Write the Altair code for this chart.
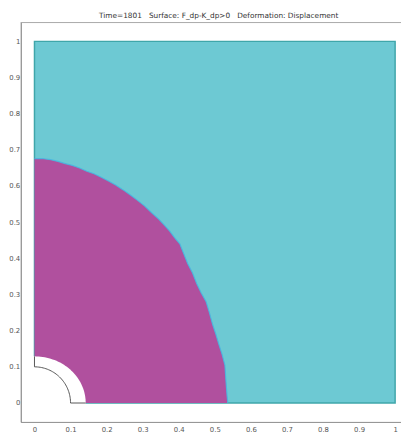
import altair as alt
import pandas as pd
import numpy as np

# ---- chart texts / ticks ----
title_text = "Time=1801\u00a0\u00a0\u00a0Surface: F_dp-K_dp>0\u00a0\u00a0\u00a0Deformation: Displacement"
tick_values = [0, 0.1, 0.2, 0.3, 0.4, 0.5, 0.6, 0.7, 0.8, 0.9, 1]

# ---- phase front (boundary of region where F_dp-K_dp>0) ----
front_x = [0.000, 0.020, 0.045, 0.065, 0.085, 0.105, 0.125, 0.145, 0.165, 0.185,
           0.205, 0.225, 0.245, 0.265, 0.285, 0.305, 0.325, 0.345, 0.360, 0.375,
           0.390, 0.403, 0.415, 0.425, 0.438, 0.450, 0.462, 0.476, 0.485, 0.494,
           0.503, 0.511, 0.520, 0.528, 0.531, 0.534, 0.536]
front_y = [0.676, 0.676, 0.673, 0.668, 0.662, 0.657, 0.650, 0.641, 0.634, 0.624,
           0.614, 0.603, 0.590, 0.576, 0.561, 0.545, 0.526, 0.508, 0.492, 0.475,
           0.455, 0.440, 0.410, 0.385, 0.360, 0.330, 0.305, 0.280, 0.250, 0.217,
           0.190, 0.163, 0.135, 0.105, 0.060, 0.020, 0.000]

# ---- geometry of the domain and the hole ----
domain_box = {"x": [0.0], "x2": [1.0], "y": [0.0], "y2": [1.0]}
hole_inner_r = 0.1
hole_outer_rx = 0.142
hole_outer_ry = 0.129

X_DOMAIN = [-0.0381, 1.0163]
Y_DOMAIN = [-0.0523, 1.0534]

CYAN = "#6DC9D3"
MAGENTA = "#B0509E"
TEAL = "#3FA6AA"

xs = alt.Scale(domain=X_DOMAIN, nice=False, zero=False)
ys = alt.Scale(domain=Y_DOMAIN, nice=False, zero=False)

x_axis = alt.Axis(values=tick_values, title=None, grid=False, ticks=False,
                  labelPadding=4, domainColor="#8a8a8a", labelFontSize=7,
                  labelColor="#555", labelFont="DejaVu Sans", format="~g",
                  labelOverlap=False, labelFlush=False)
y_axis = alt.Axis(values=tick_values, title=None, grid=False, ticks=False,
                  labelPadding=1, domainColor="#707070", labelFontSize=7,
                  labelColor="#555", labelFont="DejaVu Sans", format="~g",
                  labelOverlap=False, labelFlush=False)

box_df = pd.DataFrame(domain_box)
square = alt.Chart(box_df).mark_rect(fill=CYAN, stroke=TEAL, strokeWidth=1.5).encode(
    x=alt.X("x:Q", scale=xs, axis=x_axis),
    x2="x2:Q",
    y=alt.Y("y:Q", scale=ys, axis=y_axis),
    y2="y2:Q",
)

front_df = pd.DataFrame({"x": front_x, "y": front_y, "y0": [0.0] * len(front_x)})
magenta = alt.Chart(front_df).mark_area(color=MAGENTA, opacity=1).encode(
    x=alt.X("x:Q", scale=xs, axis=x_axis),
    y=alt.Y("y:Q", scale=ys, axis=y_axis),
    y2="y0:Q",
)
front_line = alt.Chart(front_df).mark_line(color="#45B9E2", strokeWidth=1.2, opacity=0.85).encode(
    x=alt.X("x:Q", scale=xs, axis=x_axis),
    y=alt.Y("y:Q", scale=ys, axis=y_axis),
)

# white (undeformed-gap) region around the hole
t = np.linspace(np.pi / 2, 0, 40)
cover_x = [-0.008] + list(hole_outer_rx * np.cos(t))
cover_y = [hole_outer_ry] + list(hole_outer_ry * np.sin(t))
cover_df = pd.DataFrame({"x": cover_x, "y": cover_y, "y0": [-0.008] * len(cover_x)})
cover = alt.Chart(cover_df).mark_area(color="white", opacity=1).encode(
    x=alt.X("x:Q", scale=xs, axis=x_axis),
    y=alt.Y("y:Q", scale=ys, axis=y_axis),
    y2="y0:Q",
)

# hole outline: left segment, inner arc, bottom segment
arc_x = list(hole_inner_r * np.cos(t))
arc_y = list(hole_inner_r * np.sin(t))
outline_x = [0.0] + arc_x + [hole_outer_rx]
outline_y = [hole_outer_ry] + arc_y + [0.0]
outline_df = pd.DataFrame({"x": outline_x, "y": outline_y, "o": list(range(len(outline_x)))})
outline = alt.Chart(outline_df).mark_line(color="#555555", strokeWidth=1).encode(
    x=alt.X("x:Q", scale=xs, axis=x_axis),
    y=alt.Y("y:Q", scale=ys, axis=y_axis),
    order="o:Q",
)

top_line = alt.Chart(box_df).mark_rule(color="#a8a8a8", strokeWidth=1).encode(
    x=alt.value(0), x2=alt.value(388), y=alt.value(0.5)
)

chart = alt.layer(square, magenta, front_line, cover, outline, top_line).properties(
    width=388,
    height=408,
    autosize=alt.AutoSizeParams(type="none"),
    padding={"left": 13, "top": 10, "right": 0, "bottom": 9},
    title=alt.TitleParams(title_text, fontSize=7.5, font="DejaVu Sans", color="#333",
                          fontWeight="normal", anchor="middle", offset=3, dx=8),
).configure_view(stroke=None).configure_axis(labelOverlap=False, labelBound=False)

chart.save("out.html", embed_options={"renderer": "svg", "actions": False})
